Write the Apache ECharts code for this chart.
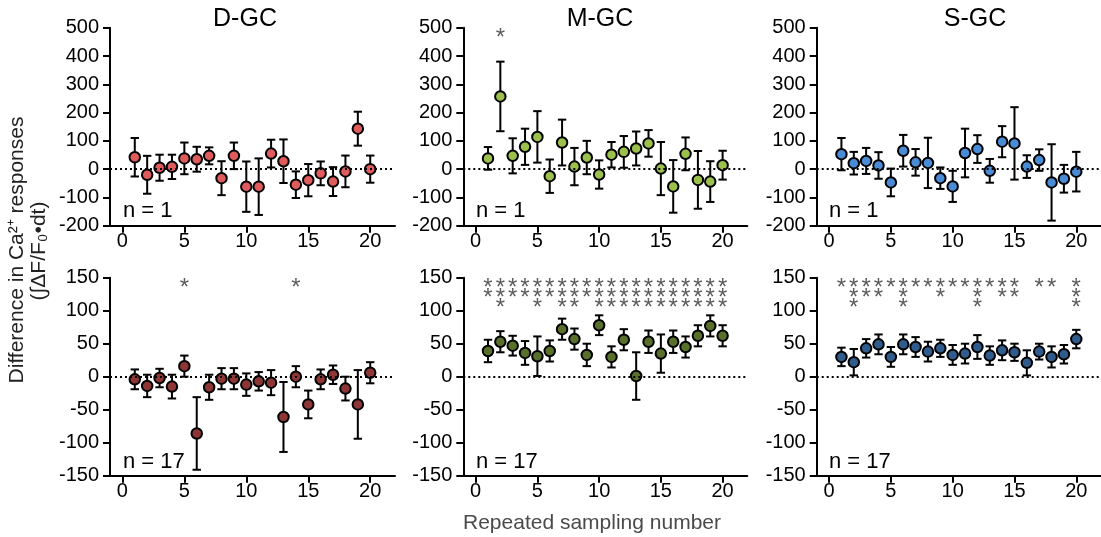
<!DOCTYPE html>
<html><head><meta charset="utf-8">
<script src="https://cdn.jsdelivr.net/npm/echarts@6/dist/echarts.min.js"></script>
<style>html,body{margin:0;padding:0;background:#fff}#c{width:1101px;height:537px}</style>
</head><body><div id="c"></div><script>
// ---- data ----
const samples = [1,2,3,4,5,6,7,8,9,10,11,12,13,14,15,16,17,18,19,20];
const xTicks = [0,5,10,15,20];
const panelTitles = ['D-GC','M-GC','S-GC'];
const nLabels = ['n = 1','n = 17'];

const dgc1Mean = [42,-20,5,8,38,35,47,-32,47,-62,-62,55,28,-55,-39,-15,-44,-8,143,0];
const dgc1Err  = [68,67,46,43,56,44,30,60,47,89,100,49,77,47,57,42,51,56,60,48];
const mgc1Mean = [38,257,47,79,114,-25,94,9,41,-19,51,61,73,91,2,-61,54,-38,-44,14];
const mgc1Err  = [40,123,62,64,91,59,81,66,59,50,45,56,60,47,94,93,58,102,72,51];
const sgc1Mean = [53,21,29,13,-47,65,24,22,-32,-61,57,71,-6,97,91,9,32,-47,-34,-9];
const sgc1Err  = [57,40,46,47,49,56,47,89,38,55,86,49,42,55,128,40,38,135,49,70];

const dgc17Mean = [-4,-14,-2,-15,16,-86,-16,-3,-3,-12,-7,-9,-61,0,-42,-4,3,-18,-42,6];
const dgc17Err  = [15,17,14,18,16,55,19,16,16,17,14,19,53,16,21,15,14,18,52,16];
const mgc17Mean = [39,53,47,36,31,39,72,57,33,78,30,56,1,53,35,53,45,62,77,62];
const mgc17Err  = [17,16,15,18,30,16,16,16,17,15,16,16,36,17,29,17,16,16,16,16];
const sgc17Mean = [30,22,43,49,30,49,45,38,43,33,35,45,32,40,37,21,38,30,34,57];
const sgc17Err  = [14,20,14,15,15,15,15,15,13,15,15,18,14,15,13,19,12,16,14,14];

// number of significance asterisks per sampling number
const dgc1Stars  = [0,0,0,0,0,0,0,0,0,0,0,0,0,0,0,0,0,0,0,0];
const mgc1Stars  = [0,1,0,0,0,0,0,0,0,0,0,0,0,0,0,0,0,0,0,0];
const sgc1Stars  = [0,0,0,0,0,0,0,0,0,0,0,0,0,0,0,0,0,0,0,0];
const dgc17Stars = [0,0,0,0,1,0,0,0,0,0,0,0,0,1,0,0,0,0,0,0];
const mgc17Stars = [2,3,2,2,3,2,3,3,2,3,3,3,3,3,3,3,3,3,3,3];
const sgc17Stars = [1,3,2,2,1,3,1,1,2,1,1,3,1,2,2,0,1,1,0,3];

const yTop = {min:-200, max:500, interval:100};
const yBot = {min:-150, max:150, interval:50};

// ---- layout / style ----
const FONT = '"Liberation Sans", Arial, Helvetica, sans-serif';
const panels = [
  {mean:dgc1Mean, err:dgc1Err, stars:dgc1Stars, color:'#e05b5b', y:yTop, left:110,   top:27.7,  width:285},
  {mean:mgc1Mean, err:mgc1Err, stars:mgc1Stars, color:'#9cc04c', y:yTop, left:463.3, top:27.7,  width:284},
  {mean:sgc1Mean, err:sgc1Err, stars:sgc1Stars, color:'#4a8bd5', y:yTop, left:816.7, top:27.7,  width:284.3},
  {mean:dgc17Mean, err:dgc17Err, stars:dgc17Stars, color:'#8e3535', y:yBot, left:110,   top:277.7, width:285},
  {mean:mgc17Mean, err:mgc17Err, stars:mgc17Stars, color:'#58702a', y:yBot, left:463.3, top:277.7, width:284},
  {mean:sgc17Mean, err:sgc17Err, stars:sgc17Stars, color:'#2f5c8c', y:yBot, left:816.7, top:277.7, width:284.3}
];
const GRID_H = 198;
const axisLineStyle = {color:'#000', width:2};

function errRender(params, api){
  const x = api.value(0), lo = api.value(1), hi = api.value(2);
  const pLo = api.coord([x, lo]), pHi = api.coord([x, hi]);
  const cw = 4.2;
  const st = {stroke:'#000', lineWidth:2, fill:null};
  return {type:'group', children:[
    {type:'line', shape:{x1:pLo[0], y1:pLo[1], x2:pHi[0], y2:pHi[1]}, style:st},
    {type:'line', shape:{x1:pLo[0]-cw, y1:pLo[1], x2:pLo[0]+cw, y2:pLo[1]}, style:st},
    {type:'line', shape:{x1:pHi[0]-cw, y1:pHi[1], x2:pHi[0]+cw, y2:pHi[1]}, style:st}
  ]};
}

const grid = [], xAxis = [], yAxis = [], series = [];
panels.forEach((p, i) => {
  grid.push({left:p.left, top:p.top, width:p.width, height:GRID_H, containLabel:false});
  xAxis.push({
    gridIndex:i, type:'value', min:-1, max:22,
    axisLine:{show:true, onZero:false, lineStyle:axisLineStyle},
    axisTick:{show:true, customValues:xTicks, length:7, lineStyle:axisLineStyle},
    axisLabel:{show:true, customValues:xTicks, fontSize:20, color:'#000', margin:6, fontFamily:FONT},
    splitLine:{show:false}
  });
  yAxis.push({
    gridIndex:i, type:'value', min:p.y.min, max:p.y.max, interval:p.y.interval,
    axisLine:{show:true, onZero:false, lineStyle:axisLineStyle},
    axisTick:{show:true, length:7, lineStyle:axisLineStyle},
    axisLabel:{show:true, fontSize:20, color:'#000', margin:11, fontFamily:FONT},
    splitLine:{show:false}
  });
  series.push({
    type:'custom', xAxisIndex:i, yAxisIndex:i, z:2,
    renderItem:errRender,
    encode:{x:0, y:[1,2]},
    data: samples.map((x,k)=>[x, p.mean[k]-p.err[k], p.mean[k]+p.err[k]]),
    markLine:{silent:true, symbol:'none', label:{show:false}, animation:false,
      lineStyle:{color:'#000', type:[2,3], width:2}, data:[{yAxis:0}]}
  });
  series.push({
    type:'scatter', xAxisIndex:i, yAxisIndex:i, z:3,
    symbol:'circle', symbolSize:10.5,
    itemStyle:{color:p.color, borderColor:'#000', borderWidth:2, opacity:1},
    data: samples.map((x,k)=>[x, p.mean[k]])
  });
  const starData = [];
  samples.forEach((x,k)=>{ if (p.stars[k] > 0) starData.push([x, p.y.max, p.stars[k]]); });
  series.push({
    type:'scatter', xAxisIndex:i, yAxisIndex:i, z:4,
    symbol:'circle', symbolSize:0, silent:true,
    data: starData,
    label:{show:true, position:'bottom', distance:6, fontSize:24, lineHeight:10,
      color:'#333', fontFamily:FONT,
      formatter:(d)=>Array(d.value[2]).fill('*').join('\n')}
  });
});

const graphic = [];
const titleX = [245, 600, 975];
panelTitles.forEach((t,i)=>graphic.push({type:'text', x:titleX[i], y:19,
  style:{text:t, fontSize:25, fontFamily:FONT, fill:'#000', align:'center', verticalAlign:'middle'}}));
const nX = [123, 476, 829];
nX.forEach(x=>{
  graphic.push({type:'text', x:x, y:210.5, style:{text:nLabels[0], fontSize:22, fontFamily:FONT, fill:'#000', align:'left', verticalAlign:'middle'}});
  graphic.push({type:'text', x:x, y:461.5, style:{text:nLabels[1], fontSize:22, fontFamily:FONT, fill:'#000', align:'left', verticalAlign:'middle'}});
});
graphic.push({type:'text', x:592, y:523, style:{text:'Repeated sampling number', fontSize:21, fontFamily:FONT, fill:'#4a4a4a', align:'center', verticalAlign:'middle'}});
graphic.push({type:'text', x:17, y:250, rotation:Math.PI/2, style:{text:'Difference in Ca\u00B2\u207A responses', fontSize:21, fontFamily:FONT, fill:'#222', align:'center', verticalAlign:'middle'}});
graphic.push({type:'text', x:39, y:251, rotation:Math.PI/2, style:{text:'(\u222B\u0394F/F\u2080\u2022dt)', fontSize:21, fontFamily:FONT, fill:'#222', align:'center', verticalAlign:'middle'}});

const chart = echarts.init(document.getElementById('c'), null, {renderer:'canvas'});
chart.setOption({
  animation:false,
  backgroundColor:'#fff',
  grid, xAxis, yAxis, series, graphic
});
</script></body></html>
